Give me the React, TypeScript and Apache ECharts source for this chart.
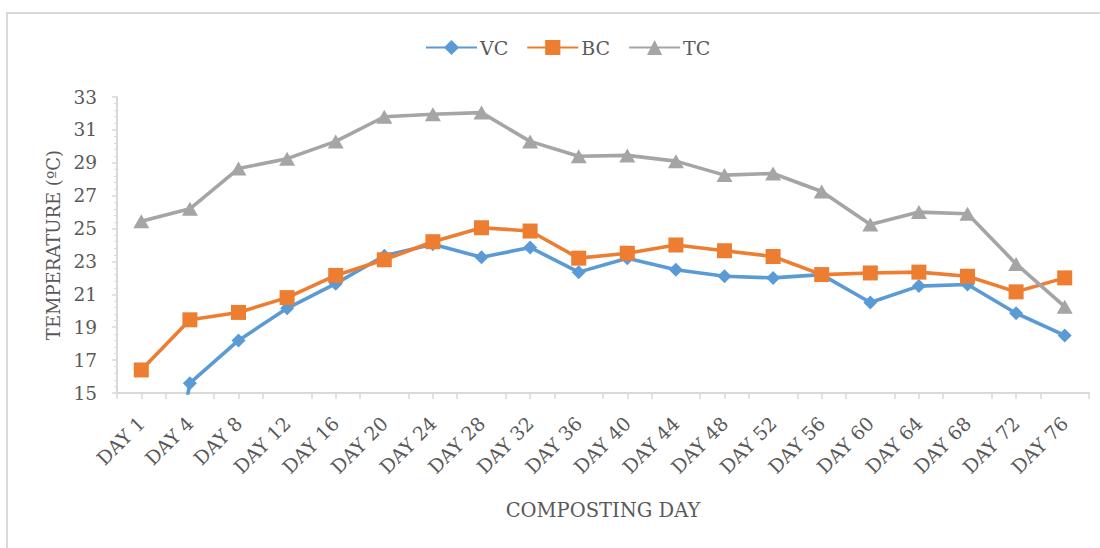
import React, { useEffect, useRef } from "react";
import * as echarts from "echarts";

const categories = ["DAY 1", "DAY 4", "DAY 8", "DAY 12", "DAY 16", "DAY 20", "DAY 24", "DAY 28", "DAY 32", "DAY 36", "DAY 40", "DAY 44", "DAY 48", "DAY 52", "DAY 56", "DAY 60", "DAY 64", "DAY 68", "DAY 72", "DAY 76"];
const vcValues = [0, 15.6, 18.2, 20.15, 21.65, 23.35, 24.05, 23.25, 23.85, 22.35, 23.2, 22.5, 22.1, 22.0, 22.2, 20.5, 21.5, 21.6, 19.85, 18.5];
const bcValues = [16.4, 19.45, 19.9, 20.8, 22.15, 23.1, 24.2, 25.05, 24.85, 23.2, 23.5, 24.0, 23.65, 23.3, 22.2, 22.3, 22.35, 22.1, 21.15, 22.0];
const tcValues = [25.45, 26.2, 28.65, 29.25, 30.3, 31.8, 31.95, 32.05, 30.3, 29.4, 29.45, 29.1, 28.25, 28.35, 27.25, 25.25, 26.0, 25.9, 22.85, 20.25];
const yMin = 15;
const yMax = 33;
const yStep = 2;

const FONT = "DejaVu Serif";
const TEXT = "#595959";
const AXIS = "#D9D9D9";

export default function App() {
  const ref = useRef<HTMLDivElement>(null);
  useEffect(() => {
    if (!ref.current) return;
    const chart = echarts.init(ref.current, null, { renderer: "svg" });
    const mk = (name: string, data: number[], color: string, symbol: string, size: any) => ({
      name,
      type: "line",
      data,
      symbol,
      symbolSize: size,
      clip: true,
      lineStyle: { color, width: 3.6 },
      itemStyle: { color, borderColor: color, borderWidth: 0 },
      emphasis: { disabled: true },
    });
    chart.setOption({
      animation: false,
      textStyle: { fontFamily: FONT },
      graphic: [
        {
          type: "rect",
          shape: { x: 7, y: 13, width: 1200, height: 600 },
          style: { fill: "none", stroke: AXIS, lineWidth: 2 },
          silent: true,
        },
      ],
      legend: {
        left: 425,
        top: 38,
        padding: 0,
        itemWidth: 51,
        itemHeight: 19,
        itemGap: 18,
        textStyle: { fontFamily: FONT, fontSize: 19, color: TEXT, padding: [0, 0, 0, -2] },
        data: ["VC", "BC", "TC"],
      },
      grid: { left: 117, right: 11, top: 97, bottom: 155, containLabel: false },
      xAxis: [
        {
          type: "category",
          data: categories,
          boundaryGap: true,
          axisLine: { lineStyle: { color: AXIS, width: 2 } },
          axisTick: { show: true, length: 6, lineStyle: { color: AXIS, width: 1.5 } },
          axisLabel: { rotate: 45, margin: 27, fontFamily: FONT, fontSize: 19, color: TEXT, interval: 0 },
          name: "COMPOSTING DAY",
          nameLocation: "middle",
          nameGap: 107,
          nameTextStyle: { fontFamily: FONT, fontSize: 19.5, color: TEXT },
        },
        {
          type: "category",
          data: categories,
          boundaryGap: true,
          position: "bottom",
          axisLine: { show: false },
          axisTick: { show: true, alignWithLabel: true, length: 6, lineStyle: { color: AXIS, width: 1.5 } },
          axisLabel: { show: false },
        },
      ],
      yAxis: {
        type: "value",
        min: yMin,
        max: yMax,
        interval: yStep,
        axisLine: { show: true, lineStyle: { color: AXIS, width: 2 } },
        axisTick: { show: true, length: 5, lineStyle: { color: AXIS, width: 1.5 } },
        minorTick: { show: true, splitNumber: 5, length: 3, lineStyle: { color: AXIS, width: 1 } },
        splitLine: { show: false },
        axisLabel: { margin: 20, fontFamily: FONT, fontSize: 18.5, color: TEXT },
        name: "TEMPERATURE (ºC)",
        nameLocation: "middle",
        nameGap: 54,
        nameTextStyle: { fontFamily: FONT, fontSize: 18, color: TEXT },
      },
      series: [
        mk("VC", vcValues, "#5B9BD5", "diamond", 14),
        mk("BC", bcValues, "#ED7D31", "rect", 15),
        mk("TC", tcValues, "#A5A5A5", "triangle", [16, 14]),
      ],
    });
    return () => chart.dispose();
  }, []);
  return (
    <div
      ref={ref}
      style={{ position: "fixed", left: 0, top: 0, width: 1100, height: 548, background: "#fff" }}
    />
  );
}
